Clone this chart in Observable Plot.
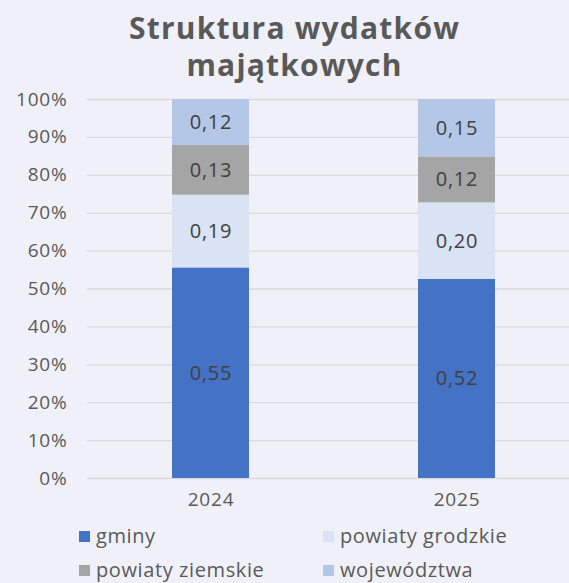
<!DOCTYPE html>
<html>
<head>
<meta charset="utf-8">
<script src="https://cdn.jsdelivr.net/npm/d3@7"></script>
<script src="https://cdn.jsdelivr.net/npm/@observablehq/plot@0.6"></script>
<style>
  html, body { margin: 0; padding: 0; background: #F0F1F8; }
  body { width: 569px; height: 583px; overflow: hidden; font-family: "Open Sans", sans-serif; }
  #title { height: 76px; box-sizing: border-box; padding-top: 9px; padding-left: 20px; text-align: center;
           font-weight: 700; font-size: 30px; line-height: 37px; color: #595959; letter-spacing: 1.2px; overflow: visible; }
  #legend { position: absolute; left: 0; top: 526px; width: 569px; font-size: 20px; line-height: 20px; color: #595959; letter-spacing: 0.6px; }
  .item { position: absolute; display: flex; align-items: center; white-space: nowrap; }
  .sw { width: 11px; height: 11px; margin-right: 6px; }
  svg { display: block; }
</style>
</head>
<body>
<div id="title">Struktura wydatków<br>majątkowych</div>
<div id="chart"></div>
<div id="legend"></div>
<script>
const years = ["2024", "2025"];
const seriesNames = ["gminy", "powiaty grodzkie", "powiaty ziemskie", "województwa"];
const gminy = [0.55, 0.52];
const powiatyGrodzkie = [0.19, 0.20];
const powiatyZiemskie = [0.13, 0.12];
const wojewodztwa = [0.12, 0.15];
const colors = ["#4472C4", "#DAE3F3", "#A5A5A5", "#B4C7E7"];
const yTicks = [0, 0.1, 0.2, 0.3, 0.4, 0.5, 0.6, 0.7, 0.8, 0.9, 1];

const seriesValues = [gminy, powiatyGrodzkie, powiatyZiemskie, wojewodztwa];
const data = [];
seriesNames.forEach((s, i) => {
  years.forEach((y, j) => data.push({year: y, series: s, value: seriesValues[i][j]}));
});
const fmt = v => v.toFixed(2).replace(".", ",");

const plot = Plot.plot({
  width: 569,
  height: 444,
  marginTop: 23,
  marginBottom: 42,
  marginLeft: 87,
  marginRight: 0,
  style: {background: "transparent", fontFamily: "Open Sans, sans-serif", fontSize: "18px", color: "#595959", letterSpacing: "0.8px"},
  x: {domain: years, range: [87, 579], paddingInner: 0.687, paddingOuter: 0.3435, align: 0.5, label: null},
  y: {domain: [0, 1], label: null},
  color: {domain: seriesNames, range: colors},
  marks: [
    Plot.ruleY(yTicks, {stroke: "#D9D9D9", strokeWidth: 1.3}),
    Plot.barY(data, Plot.stackY({x: "year", y: "value", z: "series", fill: "series", offset: "normalize"})),
    Plot.text(data, Plot.stackY({x: "year", y: "value", z: "series", offset: "normalize", text: d => fmt(d.value),
      fill: "#404040", fontSize: 20})),
    Plot.axisX({tickSize: 0, tickPadding: 14, fontSize: 19, fill: "#595959"}),
    Plot.axisY({ticks: yTicks, tickFormat: d => Math.round(d * 100) + "%", tickSize: 0, tickPadding: 20, fontSize: 19, fill: "#595959"})
  ]
});
document.getElementById("chart").append(plot);

const legend = document.getElementById("legend");
const pos = [[79, 0], [323, 0], [79, 34], [323, 34]];
seriesNames.forEach((s, i) => {
  const it = document.createElement("div");
  it.className = "item";
  it.style.left = pos[i][0] + "px";
  it.style.top = pos[i][1] + "px";
  const sw = document.createElement("span");
  sw.className = "sw";
  sw.style.background = colors[i];
  const t = document.createElement("span");
  t.textContent = s;
  it.append(sw, t);
  legend.append(it);
});
</script>
</body>
</html>
